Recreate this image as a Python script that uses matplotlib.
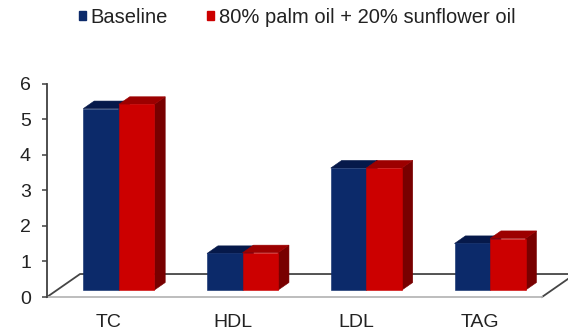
import matplotlib
matplotlib.use("Agg")
import matplotlib.pyplot as plt
from matplotlib.patches import Polygon, Rectangle

plt.rcParams["font.family"] = ["Liberation Sans", "DejaVu Sans"]

categories = ["TC", "HDL", "LDL", "TAG"]
baseline = [5.10, 1.03, 3.43, 1.31]
palm_sunflower = [5.22, 1.05, 3.43, 1.45]
series_names = ["Baseline", "80% palm oil + 20% sunflower oil"]
y_ticks = [0, 1, 2, 3, 4, 5, 6]

W, H = 568, 334
fig = plt.figure(figsize=(W / 100, H / 100), dpi=100)
ax = fig.add_axes([47 / W, (H - 297) / H, (542 - 47) / W, (297 - 83.5) / H])
ax.set_xlim(-0.5, len(categories) - 0.5)
ax.set_ylim(0, 6)

# oblique projection of the depth axis (full floor depth, data units)
floor_dx, floor_dy = 0.267, 0.646
bar_front = 0.30   # depth fraction where the bars start
bar_depth = 0.33   # depth fraction occupied by the bars
bar_w = 0.287

blue, blue_top = "#0c2a6a", "#06194a"
red, red_top, red_side = "#cc0000", "#9c0000", "#780000"

# floor
x0, x1 = -0.5, len(categories) - 0.5
floor = Polygon([(x0, 0), (x1, 0), (x1 + floor_dx, floor_dy), (x0 + floor_dx, floor_dy)],
                closed=True, facecolor="white", edgecolor="none", clip_on=False, zorder=1)
ax.add_patch(floor)
ax.plot([x0, x0 + floor_dx, x1 + floor_dx, x1], [0, floor_dy, floor_dy, 0],
        color="#454545", lw=1.3, clip_on=False, zorder=1.5)
ax.plot([x0, x1], [0, 0], color="#b8b8b8", lw=1.3, clip_on=False, zorder=1.5)

ddx, ddy = bar_depth * floor_dx, bar_depth * floor_dy
y0 = bar_front * floor_dy


def top_face(left, height, color, z):
    ax.add_patch(Polygon([(left, y0 + height), (left + bar_w, y0 + height),
                          (left + bar_w + ddx, y0 + height + ddy), (left + ddx, y0 + height + ddy)],
                         closed=True, facecolor=color, edgecolor=color, lw=0.4,
                         clip_on=False, zorder=z))


def side_face(left, height, color, z):
    r = left + bar_w
    ax.add_patch(Polygon([(r, y0), (r + ddx, y0 + ddy), (r + ddx, y0 + height + ddy), (r, y0 + height)],
                         closed=True, facecolor=color, edgecolor=color, lw=0.4,
                         clip_on=False, zorder=z))


for i, (b, p) in enumerate(zip(baseline, palm_sunflower)):
    cx = i + bar_front * floor_dx
    bl = cx - bar_w
    side_face(bl, b, blue_top, 2)
    top_face(bl, b, blue_top, 2)
    ax.bar(bl, b, width=bar_w, bottom=y0, align="edge", color=blue, edgecolor=blue,
           lw=0.4, zorder=2.5, clip_on=False)
    side_face(cx, p, red_side, 3)
    top_face(cx, p, red_top, 3)
    ax.bar(cx, p, width=bar_w, bottom=y0, align="edge", color=red, edgecolor=red,
           lw=0.4, zorder=3.5, clip_on=False)

for s in ["top", "right", "bottom"]:
    ax.spines[s].set_visible(False)
ax.spines["left"].set_color("#404040")
ax.spines["left"].set_linewidth(1.3)

ax.set_yticks(y_ticks)
ax.tick_params(axis="y", direction="out", length=3.6, width=1.1, color="#404040",
               pad=8, labelsize=14, labelcolor="#222222")
ax.set_xticks(range(len(categories)))
ax.set_xticklabels(categories)
ax.tick_params(axis="x", length=0, pad=12, labelsize=14, labelcolor="#222222")

handles = [Rectangle((0, 0), 1, 1, color=blue), Rectangle((0, 0), 1, 1, color=red)]
fig.legend(handles, series_names, loc="upper center", bbox_to_anchor=(297 / W, 1.0),
           borderaxespad=0, ncol=2, frameon=False, handlelength=0.35, handleheight=0.28,
           handletextpad=0.25, columnspacing=1.9, fontsize=14.5, labelcolor="#222222")

fig.savefig("out.png", dpi=100)
